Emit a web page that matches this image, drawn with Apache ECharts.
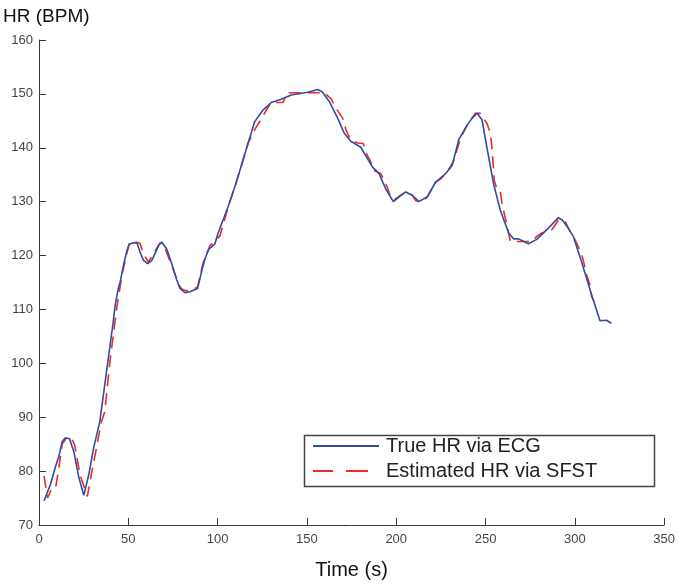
<!DOCTYPE html>
<html>
<head>
<meta charset="utf-8">
<script src="https://cdn.jsdelivr.net/npm/echarts@6/dist/echarts.min.js"></script>
<style>html,body{margin:0;padding:0;background:#fff}#c{width:678px;height:585px}</style>
</head>
<body>
<div id="c"></div>
<script>
// True HR via ECG
const trueTime = [2.8,6.5,9.3,11.1,13,14.8,17.1,19.5,22.3,25.1,27.9,30.7,34,37.4,39.9,41.4,42.7,44.2,45.5,47.5,49.2,50.5,52,54.8,56.6,58.5,60.9,63.2,66.9,68.7,71.5,74.3,77.1,78.9,81.7,84.5,88.8,91,92.9,95.1,98.4,100.3,105.9,109.6,113.3,117.1,120.7,125.4,130,135.6,141.2,150.5,156,158.5,162.5,167.2,170.9,174.6,180.2,183,186.7,190.4,194.1,198.4,201.6,205.3,209,212.7,217.4,222,227.6,231.3,235,239.7,242.5,245.3,248,250.8,254.5,258.2,262.9,265.7,268.5,274,278.7,284.3,290.7,293,295.4,299.1,303.8,309.4,314.1,317.8,320.5];
const trueHR   = [74.5,77.6,80.9,82.7,85.5,86.2,86,83.6,78.8,75.5,79.4,84.5,89.1,97.5,103.6,107.3,110.9,113.6,115.2,118.5,120.9,122.1,122.3,122.4,120.6,119.1,118.5,119.1,121.8,122.5,121.2,118.5,115.5,113.9,113.1,113.3,113.9,117,119.4,121.2,122.1,124.2,129.1,132.7,136.7,140.9,144.8,147,148.4,149,149.8,150.3,150.8,150.4,148.6,145.5,142.7,141.2,140.1,138.5,136.4,135.2,132.4,130,130.9,131.8,131.2,130,130.9,133.6,135.2,136.7,141.5,144.2,145.5,146.4,145.2,140,133.3,128.5,124.2,123.1,123.1,122.2,123,124.8,127,126.6,125.5,123.6,118.8,112.7,107.9,108,107.4];
// Estimated HR via SFST
const estTime = [2.8,4.8,7,9.3,11.1,13,15.4,18.2,20,22.9,25.3,27.1,29.3,32.1,34.9,36.8,39.6,43.3,46.4,50.2,51.1,52.9,56.5,58.5,61.3,64.1,67.8,69.6,74.3,78.4,79.9,81.7,85.5,88.8,92,95.7,101.2,105.9,109.6,113.3,117.1,121,123.5,127.3,130,136.6,139,159.8,163.5,166.3,170,171.9,174.3,178.4,181.5,183,185.4,187.6,191.4,195,197,198.8,201.6,205.3,209,210.9,214.6,217.4,222,224.8,228.5,232.2,236,239.7,244.3,247,250.8,252.7,253.6,254.9,256.4,258.2,259.2,262.9,263.8,266.6,271.2,275.9,278.5,281.5,285.2,287.1,290.7,294.5,297.3,300,303.8,305.6,306.6,308.5,309.4,310.7];
const estHR   = [79.1,75,76.7,76.9,80.6,85.1,86.1,86.1,84.8,79.4,77,75.3,79.4,84.2,89.1,91,100,109.7,116.4,121.8,122.6,122.6,122.3,120.3,118.8,120.3,122.4,122.1,118.2,114.5,113.8,113.5,113.5,114.2,118.8,121.8,123.6,129,132.7,136.7,140.9,143.5,144.8,147,148.4,148.4,150.2,150.2,149.1,147.3,145.5,143.3,141.5,140.9,140.8,139.1,137.6,135.8,135.2,132.7,130.6,130.3,131,131.8,131.2,130.2,130,130.9,133.6,134.2,135.5,137.6,141.8,144.2,146.4,146.4,144.5,142.7,140,133.9,132.4,132.1,129.7,124.2,122.7,122.6,122.6,122.6,123.5,124.2,124.5,124.8,126.5,126.4,124.5,123,120.3,117.9,116.4,114.5,112.4,111.5];
const xTicks = {min: 0, max: 350, interval: 50};
const yTicks = {min: 70, max: 160, interval: 10};

const pair = (xs, ys) => xs.map((x, i) => [x, ys[i]]);
const font = "'Liberation Sans', Arial, Helvetica, sans-serif";
const axisCol = '#3a3a3a';
const blue = '#2F4DA6', red = '#F02828';

const chart = echarts.init(document.getElementById('c'), null, {renderer: 'canvas'});
chart.setOption({
  animation: false,
  backgroundColor: '#fff',
  grid: {left: 37, right: 12, top: 40, bottom: 50, containLabel: false},
  xAxis: {
    type: 'value', min: xTicks.min, max: xTicks.max, interval: xTicks.interval,
    name: 'Time (s)', nameLocation: 'middle', nameGap: 35,
    nameTextStyle: {fontFamily: font, fontSize: 20, color: '#111'},
    axisLine: {show: true, lineStyle: {color: axisCol, width: 1}},
    axisTick: {show: true, inside: true, length: 7, lineStyle: {color: axisCol}},
    axisLabel: {fontFamily: font, fontSize: 13, color: '#444', margin: 8},
    splitLine: {show: false}
  },
  yAxis: {
    type: 'value', min: yTicks.min, max: yTicks.max, interval: yTicks.interval,
    name: 'HR (BPM)', nameLocation: 'end', nameGap: 23,
    nameTextStyle: {fontFamily: font, fontSize: 19, color: '#111', align: 'left', verticalAlign: 'middle', padding: [0, 0, 0, -36]},
    axisLine: {show: true, lineStyle: {color: axisCol, width: 1}},
    axisTick: {show: true, inside: true, length: 7, lineStyle: {color: axisCol}},
    axisLabel: {fontFamily: font, fontSize: 13, color: '#444', margin: 6},
    splitLine: {show: false}
  },
  legend: {
    orient: 'vertical', left: 313, top: 435, padding: 0,
    itemWidth: 66, itemHeight: 2, itemGap: 3, symbolKeepAspect: false,
    textStyle: {fontFamily: font, fontSize: 20, color: '#222', lineHeight: 22, padding: [0, 0, 0, 2]},
    data: [
      {name: 'True HR via ECG', icon: 'path://M0,0H66V2H0Z'},
      {name: 'Estimated HR via SFST', icon: 'path://M0,0H20V2H0ZM33,0H55V2H33ZM65.9,0H66V0.01H65.9Z'}
    ]
  },
  graphic: [{
    type: 'rect', left: 302, top: 433, silent: true, z: 10,
    shape: {width: 350, height: 51},
    style: {fill: 'none', stroke: '#444', lineWidth: 1.5}
  }],
  series: [
    {
      name: 'True HR via ECG', type: 'line', data: pair(trueTime, trueHR),
      symbol: 'none', smooth: false, z: 3,
      lineStyle: {color: blue, width: 1.6},
      itemStyle: {color: blue}
    },
    {
      name: 'Estimated HR via SFST', type: 'line', data: pair(estTime, estHR),
      symbol: 'none', smooth: false, z: 2,
      lineStyle: {color: red, width: 1.6, type: [12, 7]},
      itemStyle: {color: red}
    }
  ]
});
</script>
</body>
</html>
